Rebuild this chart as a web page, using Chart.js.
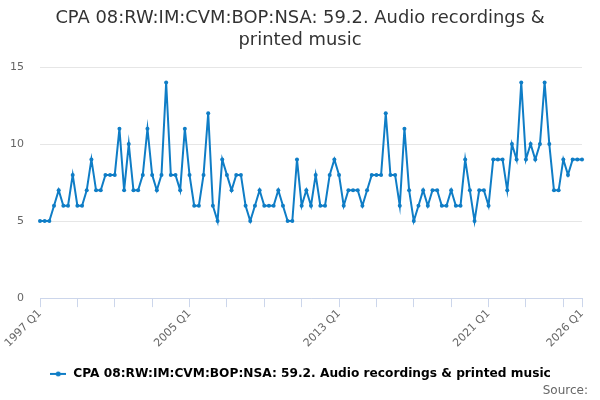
<!DOCTYPE html>
<html>
<head>
<meta charset="utf-8">
<script src="https://cdn.jsdelivr.net/npm/chart.js@4"></script>
<style>
html,body{margin:0;padding:0;background:#fff;}
#wrap{width:600px;height:400px;}
</style>
</head>
<body>
<div id="wrap"><canvas id="c"></canvas></div>
<script>
const startYear = 1997;
const quarters = [];
for (let y = startYear; y <= 2026; y++) {
  for (let q = 1; q <= 4; q++) {
    if (y === 2026 && q > 1) break;
    quarters.push(y + ' Q' + q);
  }
}
const values = [
  5,5,5,6,7,6,6,8,6,6,7,9,7,7,8,8,8,11,7,10,7,7,8,11,8,7,8,14,8,8,7,11,
  8,6,6,8,12,6,5,9,8,7,8,8,6,5,6,7,6,6,6,7,6,5,5,9,6,7,6,8,6,6,8,9,
  8,6,7,7,7,6,7,8,8,8,12,8,8,6,11,7,5,6,7,6,7,7,6,6,7,6,6,9,7,5,7,7,
  6,9,9,9,7,10,9,14,9,10,9,10,14,10,7,7,9,8,9,9,9
];
const yTicks = [0,5,10,15];
const labeledTicks = ['1997 Q1','2005 Q1','2013 Q1','2021 Q1','2026 Q1'];
const titleLines = ['CPA 08:RW:IM:CVM:BOP:NSA: 59.2. Audio recordings &', 'printed music'];
const seriesName = 'CPA 08:RW:IM:CVM:BOP:NSA: 59.2. Audio recordings & printed music';
const sourceText = 'Source:';
const lineColor = '#0f7dc6';

// legend marker: line with dot
const mk = document.createElement('canvas');
mk.width = 16; mk.height = 8;
const mctx = mk.getContext('2d');
mctx.strokeStyle = lineColor; mctx.lineWidth = 2;
mctx.beginPath(); mctx.moveTo(0,4); mctx.lineTo(16,4); mctx.stroke();
mctx.fillStyle = lineColor;
mctx.beginPath(); mctx.arc(8,4,2.5,0,Math.PI*2); mctx.fill();

const sourcePlugin = {
  id: 'sourceText',
  afterLayout(chart) {
    const s = chart.scales.y;
    s.left = 0;
    s.width = s.right - s.left;
  },
  afterDraw(chart) {
    const ctx = chart.ctx;
    ctx.save();
    ctx.font = '12px "DejaVu Sans"';
    ctx.fillStyle = '#666666';
    ctx.textAlign = 'right';
    ctx.textBaseline = 'middle';
    ctx.fillText(sourceText, 588, 391);
    ctx.restore();
  }
};

new Chart(document.getElementById('c'), {
  type: 'line',
  data: {
    labels: quarters,
    datasets: [{
      label: seriesName,
      data: values,
      borderColor: lineColor,
      backgroundColor: lineColor,
      borderWidth: 2,
      pointRadius: 2,
      pointHoverRadius: 3,
      pointBackgroundColor: lineColor,
      pointBorderWidth: 0,
      tension: 0,
      pointStyle: 'circle'
    }]
  },
  plugins: [sourcePlugin],
  options: {
    responsive: true,
    maintainAspectRatio: false,
    animation: false,
    layout: { padding: { left: 18, right: 18, top: 7, bottom: 10 } },
    plugins: {
      title: {
        display: true,
        text: titleLines,
        color: '#333333',
        font: { family: 'DejaVu Sans', size: 17.9, weight: 'normal', lineHeight: 1.23 },
        padding: { top: 0, bottom: 16 }
      },
      legend: {
        display: true,
        position: 'bottom',
        labels: {
          color: '#333333',
          font: { family: 'DejaVu Sans', size: 12.2, weight: 'bold' },
          usePointStyle: true,
          pointStyle: mk,
          pointStyleWidth: 18,
          boxWidth: 16,
          padding: 18,
          generateLabels: (chart) => [{
            text: seriesName,
            pointStyle: mk,
            fillStyle: lineColor,
            strokeStyle: lineColor,
            lineWidth: 0,
            hidden: false,
            datasetIndex: 0
          }]
        }
      },
      tooltip: { enabled: false }
    },
    scales: {
      x: {
        type: 'category',
        offset: false,
        afterFit: (scale) => { scale.paddingLeft = 0; scale.paddingRight = 0; },
        grid: {
          display: true,
          drawOnChartArea: false,
          drawTicks: true,
          tickLength: 9,
          color: '#ccd6eb'
        },
        border: { display: true, color: '#ccd6eb', width: 1 },
        ticks: {
          autoSkip: false,
          maxRotation: 45,
          minRotation: 45,
          color: '#666666',
          font: { family: 'DejaVu Sans', size: 11 },
          padding: 0,
          callback: function(val, i) {
            const lab = this.getLabelForValue(val);
            if (labeledTicks.includes(lab)) return lab;
            if (i % 8 === 0) return '';
            return null;
          }
        }
      },
      y: {
        min: 0,
        max: 15,
        afterBuildTicks: (axis) => { axis.ticks = yTicks.map(v => ({ value: v })); },
        afterFit: (scale) => { scale.width = 22; },
        grid: { color: '#e6e6e6', drawTicks: false },
        border: { display: false },
        ticks: {
          color: '#666666',
          font: { family: 'DejaVu Sans', size: 11 },
          padding: 16
        }
      }
    }
  }
});
</script>
</body>
</html>
